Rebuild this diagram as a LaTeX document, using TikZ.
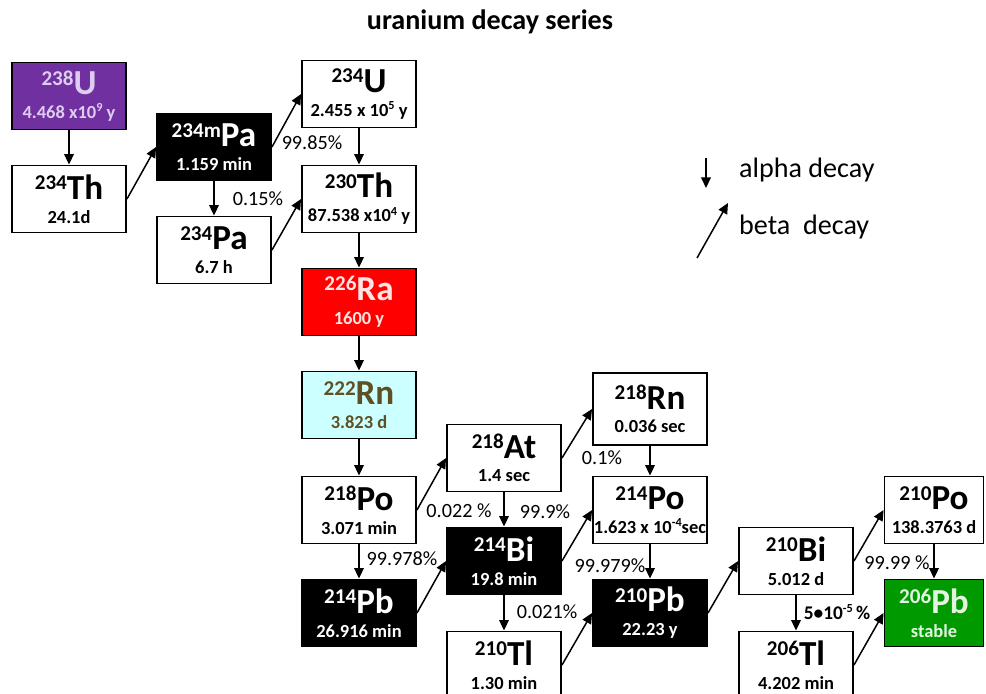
\documentclass[tikz,border=0pt]{standalone}
\usepackage{fontspec}
\setmainfont{Carlito}
\usepackage{tikz}
\usetikzlibrary{arrows.meta}

\definecolor{uviolet}{RGB}{112,48,160}
\definecolor{ulilac}{RGB}{222,205,240}
\definecolor{rared}{RGB}{255,0,0}
\definecolor{rapink}{RGB}{255,228,228}
\definecolor{rncyan}{RGB}{204,255,255}
\definecolor{rnolive}{RGB}{95,80,35}
\definecolor{pbgreen}{RGB}{0,153,0}
\definecolor{pbpale}{RGB}{225,245,225}

% mass number, element, half-life
\newcommand{\iso}[3]{{\fontsize{12}{13.6}\selectfont\raisebox{5.5pt}{#1}}{\fontsize{20}{13.6}\selectfont #2}\\#3}
\newcommand{\sups}[1]{\raisebox{3.8pt}{\fontsize{7}{7}\selectfont #1}}

\begin{document}
\begin{tikzpicture}[
x=0.02cm, y=-0.02cm,
    X/.style = {rectangle, draw, line width=1.1pt,% white boxes
                minimum width=2.28cm, minimum height=1.34cm,
                inner sep=0pt, align=center,
                font=\bfseries\fontsize{10.5}{13.6}\selectfont},
    Y/.style = {X, fill=black, text=white},% dark boxes
    A/.style = {-{Triangle[length=6pt,width=5.5pt]}, line width=0.85pt},
    P/.style = {font=\fontsize{11.5}{12}\selectfont, inner sep=0pt},
                        ]
\useasboundingbox (0,0) rectangle (986,693);
\clip (0,0) rectangle (986,693);
\node[font=\bfseries\fontsize{16}{18}\selectfont] (title) at (490,22) {uranium decay series};
% column 1 and 2
\node[X, fill=uviolet, text=ulilac] (U238) at (69,96) {\iso{238}{U}{4.468 x10\sups{9} y}};
\node[X] (Th234) at (69,199) {\iso{234}{Th}{24.1d}};
\node[Y] (Pa234m) at (214,147) {\iso{234m}{Pa}{1.159 min}};
\node[X] (Pa234) at (214,250) {\iso{234}{Pa}{6.7 h}};
% column 3
\node[X] (U234) at (359,94) {\iso{234}{U}{2.455 x 10\sups{5} y}};
\node[X] (Th230) at (359,199) {\iso{230}{Th}{87.538 x10\sups{4} y}};
\node[X, fill=rared, text=rapink] (Ra226) at (359,302) {\iso{226}{Ra}{1600 y}};
\node[X, fill=rncyan, text=rnolive] (Rn222) at (359,405) {\iso{222}{Rn}{3.823 d}};
\node[X] (Po218) at (359,510) {\iso{218}{Po}{3.071 min}};
\node[Y] (Pb214) at (359,613) {\iso{214}{Pb}{26.916 min}};
% column 4 and 5
\node[X] (At218) at (504,458) {\iso{218}{At}{1.4 sec}};
\node[Y] (Bi214) at (504,561) {\iso{214}{Bi}{19.8 min}};
\node[X] (Tl210) at (504,665) {\iso{210}{Tl}{1.30 min}};
\node[X, minimum height=1.44cm] (Rn218) at (650,409) {\iso{218}{Rn}{0.036 sec}};
\node[X] (Po214) at (650,510) {\iso{214}{Po}{1.623 x 10\sups{-4}sec}};
\node[Y] (Pb210) at (650,613) {\iso{210}{Pb}{22.23 y}};
% column 6 and 7
\node[X] (Bi210) at (796,561) {\iso{210}{Bi}{5.012 d}};
\node[X] (Tl206) at (796,665) {\iso{206}{Tl}{4.202 min}};
\node[X, minimum width=1.98cm] (Po210) at (934,510) {\iso{210}{Po}{138.3763 d}};
\node[X, minimum width=1.98cm, fill=pbgreen, text=pbpale] (Pb206) at (934,613) {\iso{206}{Pb}{stable}};
% alpha decays
\foreach \a/\b in {U238/Th234,Pa234m/Pa234,U234/Th230,Th230/Ra226,Ra226/Rn222,
                   Rn222/Po218,Po218/Pb214,At218/Bi214,Bi214/Tl210,Rn218/Po214,
                   Po214/Pb210,Bi210/Tl206,Po210/Pb206}
    \draw[A] (\a.south) -- (\b.north);
% beta decays
\foreach \a/\b in {Th234/Pa234m,Pa234m/U234,Pa234/Th230,Po218/At218,At218/Rn218,
                   Pb214/Bi214,Bi214/Po214,Tl210/Pb210,Pb210/Bi210,Bi210/Po210,
                   Tl206/Pb206}
    \draw[A] (\a.east) -- (\b.west);
% branching ratios
\node[P] (r1) at (312,143) {99.85\%};
\node[P] (r2) at (258,199) {0.15\%};
\node[P] (r3) at (459,511) {0.022 \%};
\node[P] (r4) at (545,512) {99.9\%};
\node[P] (r5) at (602,458) {0.1\%};
\node[P] (r6) at (402,559) {99.978\%};
\node[P] (r7) at (610,566) {99.979\%};
\node[P] (r8) at (547,612) {0.021\%};
\node[P] (r9) at (897,563) {99.99 \%};
\node[P, font=\bfseries\fontsize{11}{12}\selectfont] (r10) at (837,612) {5\textbullet10\sups{-5}\,\%};
% legend
\coordinate (a1) at (706,158);
\coordinate (a2) at (706,188);
\coordinate (b1) at (697,258);
\coordinate (b2) at (728,203);
\draw[A] (a1) -- (a2);
\draw[A] (b1) -- (b2);
\node[anchor=west, font=\fontsize{16}{18}\selectfont] (alpha) at (733,170) {alpha decay};
\node[anchor=west, font=\fontsize{16}{18}\selectfont] (beta) at (733,227) {beta\ \ decay};
\end{tikzpicture}
\end{document}
